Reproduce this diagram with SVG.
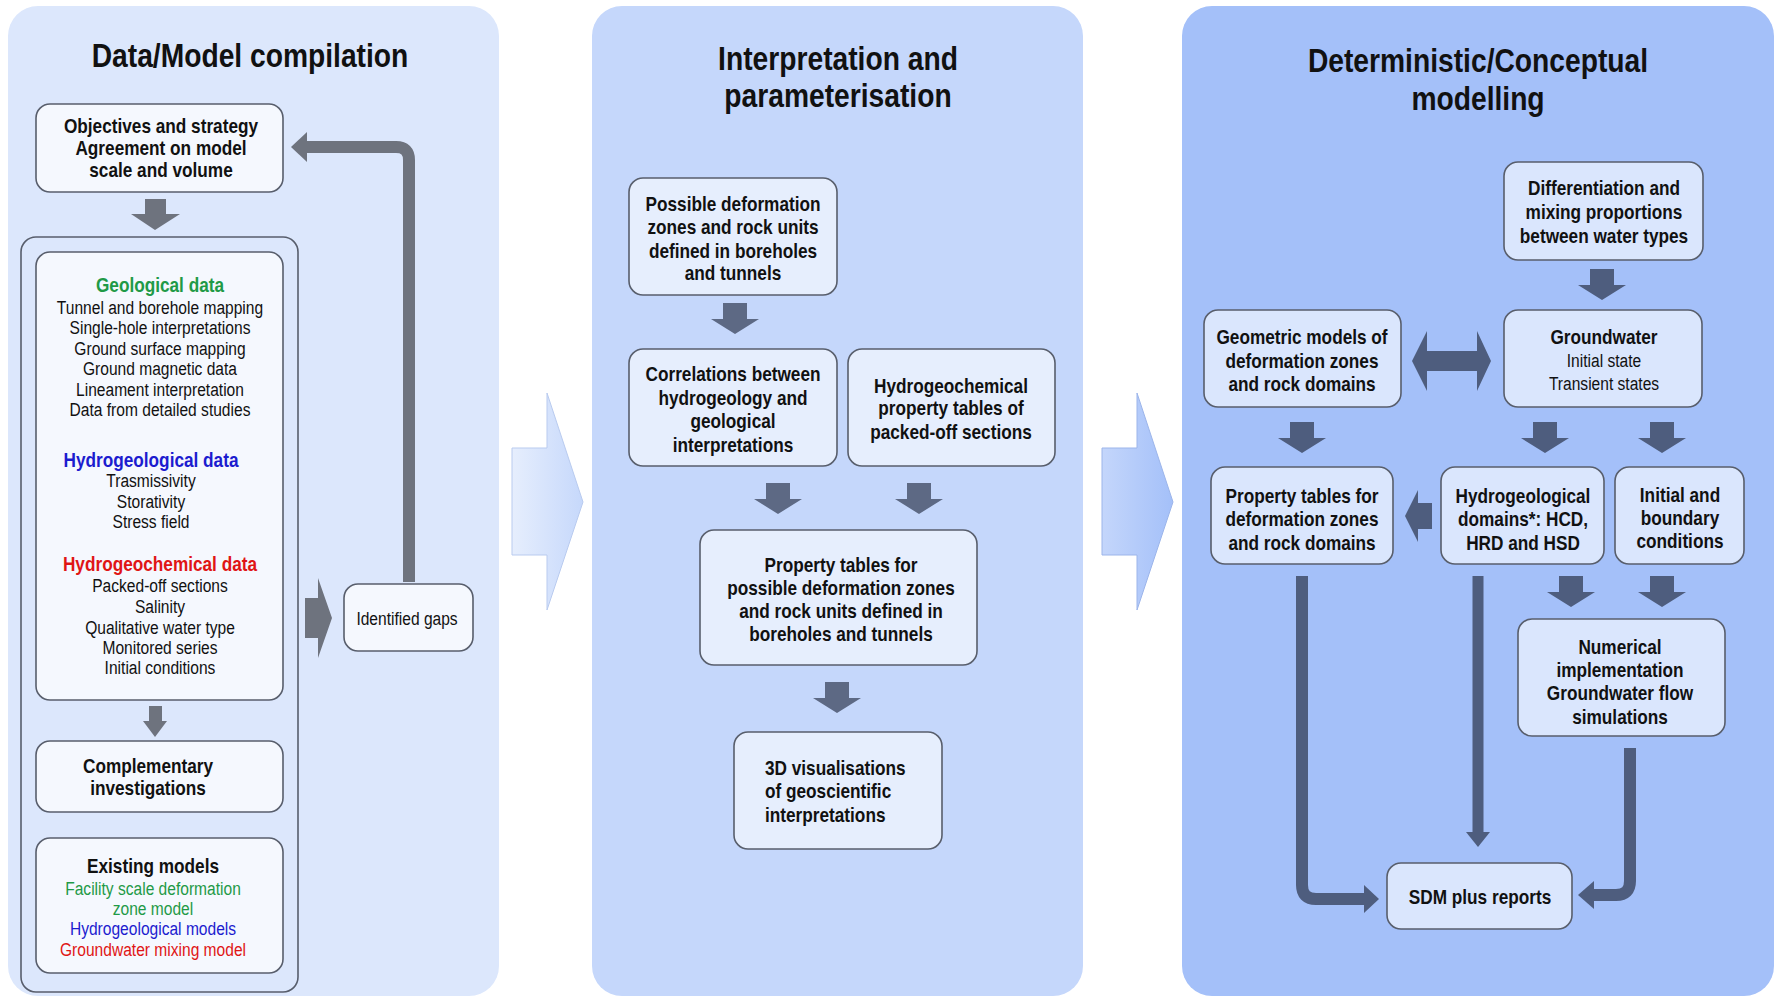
<svg xmlns="http://www.w3.org/2000/svg" xmlns:xlink="http://www.w3.org/1999/xlink" width="1779" height="997" viewBox="0 0 1779 997">
<style>
text { font-family: "Liberation Sans", Arial, sans-serif; text-anchor: middle; fill: #111; }
.h { font-size: 34px; font-weight: bold; }
.b { font-size: 21px; font-weight: bold; }
.r { font-size: 19px; }
.g { fill: #1f9a47; }
.bl { fill: #1c1ccf; }
.rd { fill: #e01515; }
.n1 { fill: #f5f8fe; stroke: #585e6c; stroke-width: 1.6; }
.n2 { fill: #e6eefd; stroke: #585e6c; stroke-width: 1.6; }
.n3 { fill: #dae6fd; stroke: #585e6c; stroke-width: 1.6; }
.a1 { fill: #6e737e; }
.a2 { fill: #5d6984; }
.a3 { fill: #4e5d7e; }
.s1 { fill: none; stroke: #6e737e; stroke-width: 12; }
.s3 { fill: none; stroke: #4e5d7e; stroke-width: 12; }
</style>
<defs>
<path id="dn" d="M-12,0 H12 V16 H24 L0,31 L-24,16 H-12 Z"/>
<linearGradient id="gc1" x1="0" y1="0" x2="1" y2="0"><stop offset="0" stop-color="#e6eefd"/><stop offset="1" stop-color="#c6d8fb"/></linearGradient>
<linearGradient id="gc2" x1="0" y1="0" x2="1" y2="0"><stop offset="0" stop-color="#c4d6fb"/><stop offset="1" stop-color="#a4c0f9"/></linearGradient>
</defs>
<rect width="1779" height="997" fill="#ffffff"/>

<g id="panel-compilation">
<rect x="8" y="6" width="491" height="990" rx="30" fill="#dce7fc"/>
<g transform="translate(250 0) scale(0.83 1)"><text class="h" x="0" y="67">Data/Model compilation</text></g>
</g>
<g id="panel-interpretation">
<rect x="592" y="6" width="491" height="990" rx="30" fill="#c5d7fb"/>
<g transform="translate(838 0) scale(0.83 1)">
<text class="h" x="0" y="70">Interpretation and</text>
<text class="h" x="0" y="107">parameterisation</text>
</g>
</g>
<g id="panel-modelling">
<rect x="1182" y="6" width="592" height="990" rx="30" fill="#a4c0f9"/>
<g transform="translate(1478 0) scale(0.83 1)">
<text class="h" x="0" y="72">Deterministic/Conceptual</text>
<text class="h" x="0" y="110">modelling</text>
</g>
</g>

<g id="chevron-1"><path d="M512,448 H547 V393 L583,502 L547,610 V555 H512 Z" fill="url(#gc1)" stroke="#b9cbef" stroke-width="1"/></g>
<g id="chevron-2"><path d="M1102,448 H1137 V393 L1173,502 L1137,610 V555 H1102 Z" fill="url(#gc2)" stroke="#9cb5ea" stroke-width="1"/></g>

<g id="objectives">
<rect class="n1" x="36" y="104" width="247" height="88" rx="14"/>
<g transform="translate(161 0) scale(0.82 1)">
<text class="b" x="0" y="133">Objectives and strategy</text>
<text class="b" x="0" y="155">Agreement on model</text>
<text class="b" x="0" y="177">scale and volume</text>
</g>
</g>

<g id="data-group">
<rect x="21" y="237" width="277" height="755" rx="15" fill="#dce7fc" stroke="#585e6c" stroke-width="1.6"/>
</g>

<g id="data">
<rect class="n1" x="36" y="252" width="247" height="448" rx="14"/>
<g transform="translate(160 0) scale(0.82 1)">
<text class="b g" x="0" y="292">Geological data</text>
<text class="r" x="0" y="314">Tunnel and borehole mapping</text>
<text class="r" x="0" y="334">Single-hole interpretations</text>
<text class="r" x="0" y="355">Ground surface mapping</text>
<text class="r" x="0" y="375">Ground magnetic data</text>
<text class="r" x="0" y="396">Lineament interpretation</text>
<text class="r" x="0" y="416">Data from detailed studies</text>
<text class="b rd" x="0" y="571">Hydrogeochemical data</text>
<text class="r" x="0" y="592">Packed-off sections</text>
<text class="r" x="0" y="613">Salinity</text>
<text class="r" x="0" y="634">Qualitative water type</text>
<text class="r" x="0" y="654">Monitored series</text>
<text class="r" x="0" y="674">Initial conditions</text>
</g>
<g transform="translate(151 0) scale(0.82 1)">
<text class="b bl" x="0" y="467">Hydrogeological data</text>
<text class="r" x="0" y="487">Trasmissivity</text>
<text class="r" x="0" y="508">Storativity</text>
<text class="r" x="0" y="528">Stress field</text>
</g>
</g>

<g id="complementary">
<rect class="n1" x="36" y="741" width="247" height="71" rx="14"/>
<g transform="translate(148 0) scale(0.82 1)">
<text class="b" x="0" y="773">Complementary</text>
<text class="b" x="0" y="795">investigations</text>
</g>
</g>

<g id="existing">
<rect class="n1" x="36" y="838" width="247" height="135" rx="14"/>
<g transform="translate(153 0) scale(0.82 1)">
<text class="b" x="0" y="873">Existing models</text>
<text class="r g" x="0" y="895">Facility scale deformation</text>
<text class="r g" x="0" y="915">zone model</text>
<text class="r bl" x="0" y="935">Hydrogeological models</text>
<text class="r rd" x="0" y="956">Groundwater mixing model</text>
</g>
</g>

<g id="gaps">
<rect class="n1" x="344" y="584" width="129" height="67" rx="14"/>
<g transform="translate(407 0) scale(0.82 1)"><text class="r" x="0" y="625">Identified gaps</text></g>
</g>

<g id="possible">
<rect class="n2" x="629" y="178" width="208" height="117" rx="14"/>
<g transform="translate(733 0) scale(0.82 1)">
<text class="b" x="0" y="211">Possible deformation</text>
<text class="b" x="0" y="234">zones and rock units</text>
<text class="b" x="0" y="258">defined in boreholes</text>
<text class="b" x="0" y="280">and tunnels</text>
</g>
</g>
<g id="correlations">
<rect class="n2" x="629" y="349" width="208" height="117" rx="14"/>
<g transform="translate(733 0) scale(0.82 1)">
<text class="b" x="0" y="381">Correlations between</text>
<text class="b" x="0" y="405">hydrogeology and</text>
<text class="b" x="0" y="428">geological</text>
<text class="b" x="0" y="452">interpretations</text>
</g>
</g>
<g id="hydrochem-tables">
<rect class="n2" x="848" y="349" width="207" height="117" rx="14"/>
<g transform="translate(951 0) scale(0.82 1)">
<text class="b" x="0" y="393">Hydrogeochemical</text>
<text class="b" x="0" y="415">property tables of</text>
<text class="b" x="0" y="439">packed-off sections</text>
</g>
</g>
<g id="property-possible">
<rect class="n2" x="700" y="530" width="277" height="135" rx="14"/>
<g transform="translate(841 0) scale(0.82 1)">
<text class="b" x="0" y="572">Property tables for</text>
<text class="b" x="0" y="595">possible deformation zones</text>
<text class="b" x="0" y="618">and rock units defined in</text>
<text class="b" x="0" y="641">boreholes and tunnels</text>
</g>
</g>
<g id="visualisations">
<rect class="n2" x="734" y="732" width="208" height="117" rx="14"/>
<g transform="translate(765 0) scale(0.82 1)">
<text class="b" x="0" y="775" style="text-anchor:start">3D visualisations</text>
<text class="b" x="0" y="798" style="text-anchor:start">of geoscientific</text>
<text class="b" x="0" y="822" style="text-anchor:start">interpretations</text>
</g>
</g>

<g id="differentiation">
<rect class="n3" x="1504" y="162" width="199" height="98" rx="14"/>
<g transform="translate(1604 0) scale(0.82 1)">
<text class="b" x="0" y="195">Differentiation and</text>
<text class="b" x="0" y="219">mixing proportions</text>
<text class="b" x="0" y="243">between water types</text>
</g>
</g>
<g id="geometric">
<rect class="n3" x="1204" y="310" width="197" height="97" rx="14"/>
<g transform="translate(1302 0) scale(0.82 1)">
<text class="b" x="0" y="344">Geometric models of</text>
<text class="b" x="0" y="368">deformation zones</text>
<text class="b" x="0" y="391">and rock domains</text>
</g>
</g>
<g id="groundwater">
<rect class="n3" x="1504" y="310" width="198" height="97" rx="14"/>
<g transform="translate(1604 0) scale(0.82 1)">
<text class="b" x="0" y="344">Groundwater</text>
<text class="r" x="0" y="367">Initial state</text>
<text class="r" x="0" y="390">Transient states</text>
</g>
</g>
<g id="property-domains">
<rect class="n3" x="1211" y="467" width="182" height="97" rx="14"/>
<g transform="translate(1302 0) scale(0.82 1)">
<text class="b" x="0" y="503">Property tables for</text>
<text class="b" x="0" y="526">deformation zones</text>
<text class="b" x="0" y="550">and rock domains</text>
</g>
</g>
<g id="hydro-domains">
<rect class="n3" x="1441" y="467" width="163" height="97" rx="14"/>
<g transform="translate(1523 0) scale(0.82 1)">
<text class="b" x="0" y="503">Hydrogeological</text>
<text class="b" x="0" y="526">domains*: HCD,</text>
<text class="b" x="0" y="550">HRD and HSD</text>
</g>
</g>
<g id="initial-boundary">
<rect class="n3" x="1615" y="467" width="129" height="97" rx="14"/>
<g transform="translate(1680 0) scale(0.82 1)">
<text class="b" x="0" y="502">Initial and</text>
<text class="b" x="0" y="525">boundary</text>
<text class="b" x="0" y="548">conditions</text>
</g>
</g>
<g id="numerical">
<rect class="n3" x="1518" y="619" width="207" height="117" rx="14"/>
<g transform="translate(1620 0) scale(0.82 1)">
<text class="b" x="0" y="654">Numerical</text>
<text class="b" x="0" y="677">implementation</text>
<text class="b" x="0" y="700">Groundwater flow</text>
<text class="b" x="0" y="724">simulations</text>
</g>
</g>
<g id="sdm">
<rect class="n3" x="1387" y="863" width="185" height="66" rx="14"/>
<g transform="translate(1480 0) scale(0.82 1)"><text class="b" x="0" y="904">SDM plus reports</text></g>
</g>

<g id="connectors">
<path class="a1" d="M145,199 H166 V214 H180 L155,230 L131,214 H145 Z"/>
<path class="a1" d="M149,706 H162 V721 H167 L155,737 L143,721 H149 Z"/>
<path class="a1" d="M305,598 H318 V578 L332,618 L318,658 V638 H305 Z"/>
<path class="s1" d="M409,582 V160 Q409,147 396,147 H305"/>
<path class="a1" d="M307,132 L291,147 L307,162 Z"/>

<use xlink:href="#dn" class="a2" x="735" y="303"/>
<use xlink:href="#dn" class="a2" x="778" y="483"/>
<use xlink:href="#dn" class="a2" x="919" y="483"/>
<use xlink:href="#dn" class="a2" x="837" y="682"/>

<use xlink:href="#dn" class="a3" x="1602" y="269"/>
<use xlink:href="#dn" class="a3" x="1302" y="422"/>
<use xlink:href="#dn" class="a3" x="1545" y="422"/>
<use xlink:href="#dn" class="a3" x="1662" y="422"/>
<use xlink:href="#dn" class="a3" x="1571" y="576"/>
<use xlink:href="#dn" class="a3" x="1662" y="576"/>
<path class="a3" d="M1412,361 L1427,331 V351 H1477 V331 L1491,361 L1477,391 V371 H1427 V391 Z"/>
<path class="a3" d="M1405,516 L1418,490 V503 H1432 V529 H1418 V542 Z"/>
<path class="s3" d="M1302,576 V885 Q1302,899 1316,899 H1366"/>
<path class="a3" d="M1364,885 L1379,899 L1364,913 Z"/>
<path class="s3" d="M1478,576 V834" style="stroke-width:11"/>
<path class="a3" d="M1466,832 L1478,847 L1490,832 Z"/>
<path class="s3" d="M1630,748 V881 Q1630,895 1616,895 H1592"/>
<path class="a3" d="M1594,881 L1578,895 L1594,909 Z"/>
</g>
</svg>
